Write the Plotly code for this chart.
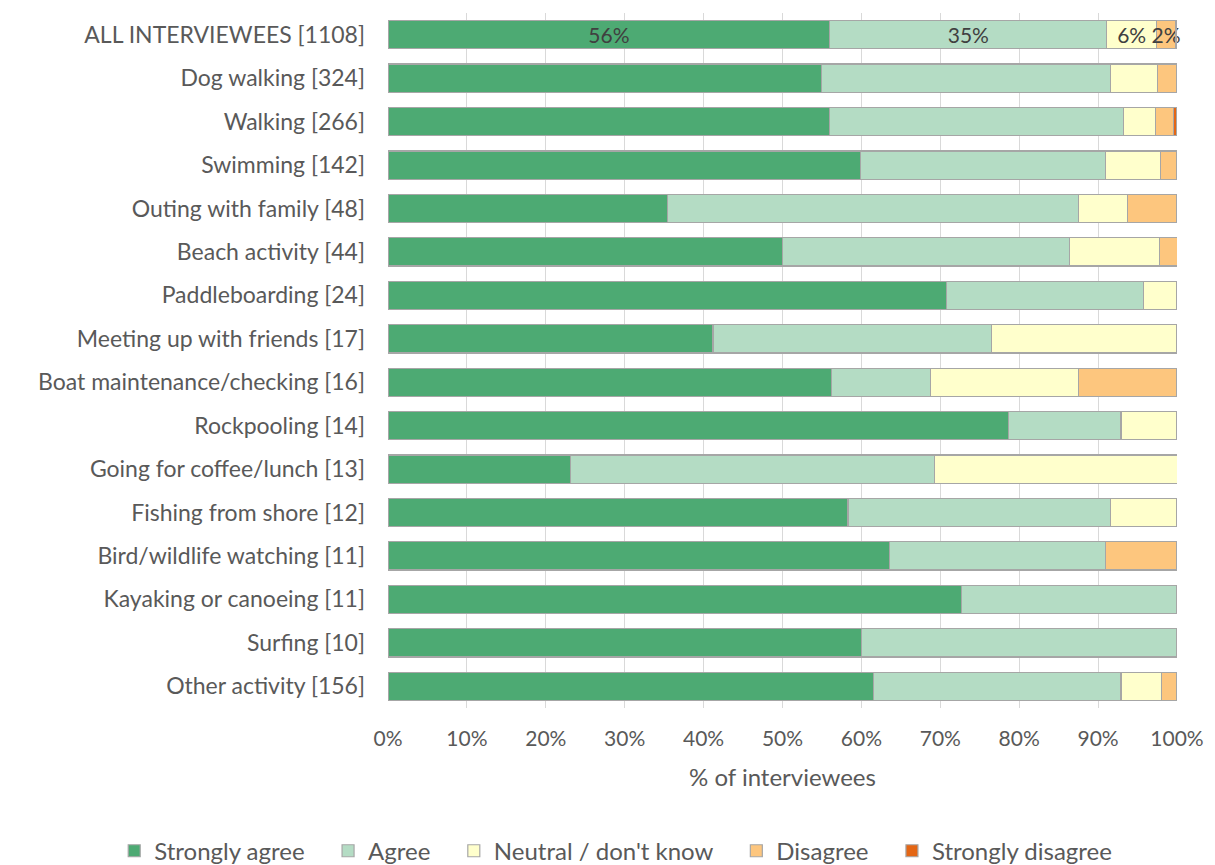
import plotly.graph_objects as go

categories = [
    "ALL INTERVIEWEES [1108]", "Dog walking [324]", "Walking [266]", "Swimming [142]",
    "Outing with family [48]", "Beach activity [44]", "Paddleboarding [24]",
    "Meeting up with friends [17]", "Boat maintenance/checking [16]", "Rockpooling [14]",
    "Going for coffee/lunch [13]", "Fishing from shore [12]", "Bird/wildlife watching [11]",
    "Kayaking or canoeing [11]", "Surfing [10]", "Other activity [156]",
]
strongly_agree = [56.0, 54.9, 56.0, 59.9, 35.4, 50.0, 70.8, 41.2, 56.25, 78.6, 23.1, 58.3, 63.6, 72.7, 60.0, 61.5]
agree = [35.1, 36.7, 37.2, 31.0, 52.1, 36.4, 25.0, 35.3, 12.5, 14.3, 46.2, 33.3, 27.3, 27.3, 40.0, 31.4]
neutral = [6.3, 5.9, 4.1, 7.0, 6.25, 11.4, 4.2, 23.5, 18.75, 7.1, 30.8, 8.3, 0.0, 0.0, 0.0, 5.1]
disagree = [2.4, 2.5, 2.3, 2.1, 6.25, 2.3, 0.0, 0.0, 12.5, 0.0, 0.0, 0.0, 9.1, 0.0, 0.0, 1.9]
strongly_disagree = [0.2, 0.0, 0.4, 0.0, 0.0, 0.0, 0.0, 0.0, 0.0, 0.0, 0.0, 0.0, 0.0, 0.0, 0.0, 0.0]

series = [
    ("Strongly agree", strongly_agree, "#4DAA73"),
    ("Agree", agree, "#B4DCC4"),
    ("Neutral / don't know", neutral, "#FFFFCC"),
    ("Disagree", disagree, "#FDC67E"),
    ("Strongly disagree", strongly_disagree, "#E46614"),
]

FONT = "Lato"
NB = "\u00a0"
fig = go.Figure()
for name, vals, col in series:
    # label only the "ALL INTERVIEWEES" bar, as in the reference
    texts = [f"{round(v)}%" if (i == 0 and name != "Strongly disagree") else "" for i, v in enumerate(vals)]
    fig.add_trace(go.Bar(
        y=categories, x=vals, name=name + NB * 3, orientation="h",
        marker=dict(color=col, line=dict(color="#A6A6A6", width=1.2)),
        text=texts, textposition="inside", insidetextanchor="middle", textangle=0,
        textfont=dict(family=FONT, size=21, color="#404040"),
        constraintext="none", cliponaxis=False,
        hoverinfo="x+y+name",
    ))

fig.update_layout(
    barmode="stack",
    width=1215, height=865,
    margin=dict(l=388, r=38, t=13, b=157, autoexpand=False),
    paper_bgcolor="white", plot_bgcolor="white",
    bargap=0.35,
    uniformtext=dict(minsize=8, mode="show"),
    font=dict(family=FONT, color="#595959", size=21),
    xaxis=dict(
        range=[0, 100], tickvals=list(range(0, 101, 10)),
        ticktext=[f"{v}%" for v in range(0, 101, 10)],
        showgrid=True, gridcolor="#D9D9D9", gridwidth=1.2,
        zeroline=False, showline=False,
        ticks="", ticklabelstandoff=16, tickfont=dict(size=21, color="#595959"),
        title=dict(text="% of interviewees", font=dict(size=24, color="#595959"), standoff=20),
    ),
    yaxis=dict(
        autorange="reversed", showgrid=False, ticks="", ticklabelstandoff=22,
        tickfont=dict(size=23, color="#595959"), showline=False,
    ),
    legend=dict(
        orientation="h", x=-0.347, xanchor="left", y=-0.206, yanchor="middle",
        font=dict(size=24, color="#595959"), traceorder="normal",
    ),
)

fig.write_html("out.html")
